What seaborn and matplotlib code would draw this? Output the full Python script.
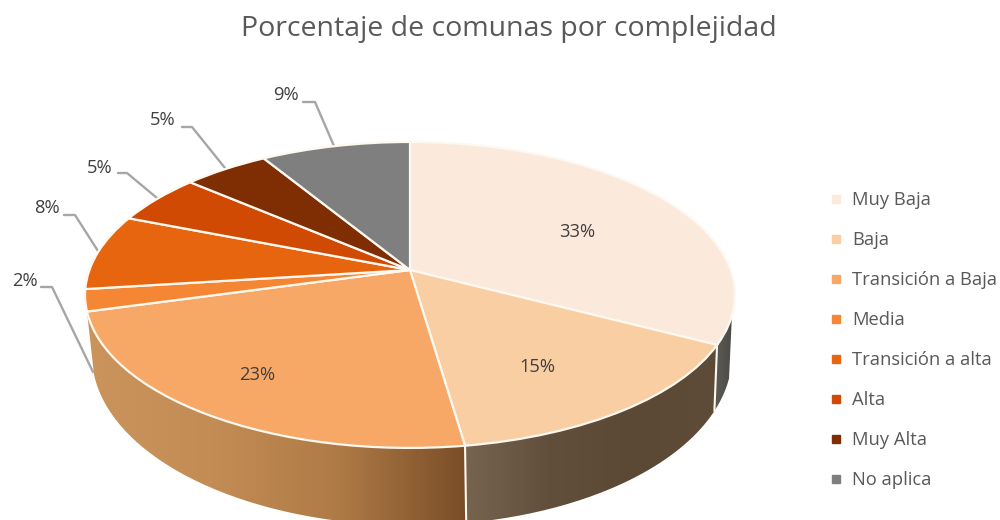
import numpy as np
import matplotlib
matplotlib.use("Agg")
import matplotlib.pyplot as plt
from matplotlib.lines import Line2D
from matplotlib.patches import PathPatch
from matplotlib.path import Path
from matplotlib.transforms import Transform
import seaborn as sns

# ---- data ----
categories = ["Muy Baja", "Baja", "Transición a Baja", "Media",
              "Transición a alta", "Alta", "Muy Alta", "No aplica"]
values = [32.7, 15.0, 23.0, 2.3, 8.0, 5.3, 5.0, 8.7]
title = "Porcentaje de comunas por complejidad"

# ---- style ----
slice_colors = ["#FBE9DC", "#F9CEA2", "#F7A866", "#F58634",
                "#E8650F", "#D14A03", "#7F2E04", "#7F7F7F"]
wall_stops = {0: ["#5C5C56", "#4C4A44"],
              1: ["#77644F", "#614F3C", "#5B4936", "#5E4C39"],
              2: ["#CB945C", "#C48C55", "#AE7A46", "#7A4D28"]}
text_color = "#595959"
label_color = "#404040"
leader_color = "#A6A6A6"
rim = "#FDF8F0"

sns.set_theme(style="white")
plt.rcParams["font.family"] = ["Open Sans", "DejaVu Sans"]
palette = sns.color_palette(slice_colors)


class Perspective(Transform):
    """Projects the unit pie disc onto the tilted plane (figure pixels)."""
    input_dims = 2
    output_dims = 2
    is_separable = False
    has_inverse = False

    def __init__(self, cx, cy, k, a, c=0.163):
        super().__init__()
        self.p = (cx, cy, k, a, c)

    def transform_non_affine(self, values):
        values = np.asarray(values, dtype=float)
        cx, cy, k, a, c = self.p
        w = 1 + c * values[:, 1]
        return np.column_stack([cx + k * values[:, 0] / w,
                                cy - a * values[:, 1] / w])


top_plane = Perspective(410, 270, 320.6, 148.9)
bottom_plane = Perspective(412, 327.7, 315.7, 165.5)


def disc(angle_deg):
    t = np.radians(angle_deg)
    return np.column_stack([np.sin(t), np.cos(t)])


fig = plt.figure(figsize=(10, 5.2), dpi=100, facecolor="white")
ax = fig.add_axes([0, 0, 1, 1])

wedges, _ = ax.pie(values, colors=palette, startangle=90, counterclock=False,
                   wedgeprops=dict(linewidth=1.6, edgecolor=rim, zorder=5))
for w in wedges:
    w.set_transform(top_plane + ax.transData)

# ---- side wall ----
cum = np.cumsum([0] + values) / sum(values) * 360
wall_start, wall_end = 107, cum[3]
for i, stops in wall_stops.items():
    a0, a1 = max(cum[i], wall_start), min(cum[i + 1], wall_end)
    ang = np.linspace(a0, a1, 80)
    top = top_plane.transform_non_affine(disc(ang))
    bot = bottom_plane.transform_non_affine(disc(ang))
    poly = np.vstack([top, bot[::-1], top[:1]])
    cmap = sns.blend_palette(stops, as_cmap=True)
    im = ax.imshow(np.linspace(0, 1, 256)[None, :], cmap=cmap, aspect="auto",
                   extent=(poly[:, 0].min(), poly[:, 0].max(),
                           poly[:, 1].max(), poly[:, 1].min()), zorder=1)
    im.set_clip_path(PathPatch(Path(poly), transform=ax.transData))

for a in cum[1:3]:
    t = top_plane.transform_non_affine(disc(np.array([a])))
    b = bottom_plane.transform_non_affine(disc(np.array([a])))
    ax.plot([t[0, 0], b[0, 0]], [t[0, 1], b[0, 1]], color=rim, lw=1.5, zorder=2)

ax.set_aspect("auto")
ax.set_xlim(0, 1000)
ax.set_ylim(520, 0)
ax.axis("off")

# ---- labels ----
inside_xy = {0: (577, 232), 1: (537, 367), 2: (257, 375)}
outside_xy = {3: (25, 281), 4: (47, 208), 5: (100, 168), 6: (163, 120), 7: (286, 95)}
leaders = {3: [(41, 287), (52, 287), (93, 372)],
           4: [(64, 215), (75, 215), (98, 251)],
           5: [(118, 173), (127, 173), (157, 198)],
           6: [(182, 127), (192, 127), (225, 168)],
           7: [(303, 102), (315, 102), (334, 146)]}
for i, xy in {**inside_xy, **outside_xy}.items():
    ax.text(*xy, f"{round(values[i])}%", ha="center", va="center",
            fontsize=13.2, color=label_color, zorder=8)
for pts in leaders.values():
    xs, ys = zip(*pts)
    ax.plot(xs, ys, color=leader_color, lw=1.7, zorder=4, solid_capstyle="round")

ax.text(509, 29, title, ha="center", va="center", fontsize=20.5,
        color=text_color, zorder=8)

handles = [Line2D([], [], linestyle="none", marker="s", markersize=5.5,
                  color=c, label=n) for c, n in zip(palette, categories)]
ax.legend(handles=handles, loc="upper left", bbox_to_anchor=(0.829, 0.632),
          frameon=False, fontsize=13.2, labelspacing=1.2, handlelength=0.8,
          handletextpad=0.45, labelcolor=text_color, borderpad=0, borderaxespad=0)

fig.savefig("out.png", dpi=100, facecolor="white")
